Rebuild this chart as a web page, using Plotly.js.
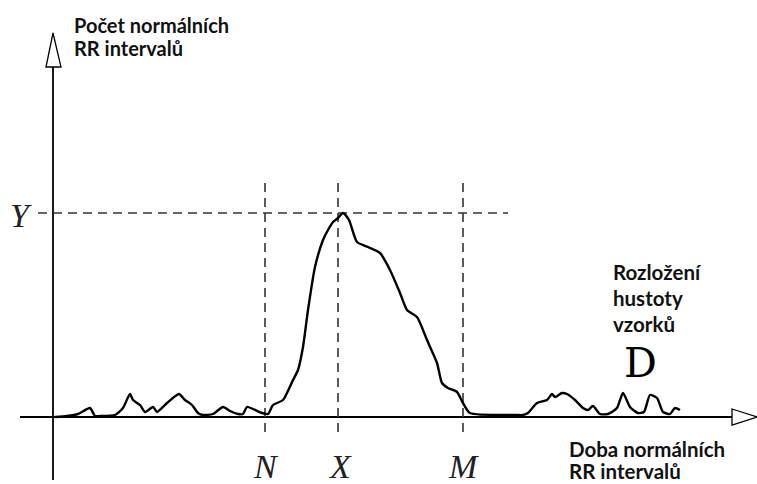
<!DOCTYPE html>
<html>
<head>
<meta charset="utf-8">
<script src="https://cdn.plot.ly/plotly-3.0.1.min.js"></script>
<style>html,body{margin:0;padding:0;background:#fff;}#chart{width:757px;height:484px;}</style>
</head>
<body>
<div id="chart"></div>
<script>
// Distribution of normal RR interval durations (x: duration, y: count)
const durations = [2, 14, 25, 37, 42, 47, 62, 70, 77, 80, 87, 92, 100, 104, 114, 126, 132, 139, 145, 150, 160, 170, 177, 185, 190, 194, 200, 209, 215, 220, 230, 240, 245, 250, 255, 262, 270, 275, 280, 285, 290, 296, 304, 315, 327, 337, 347, 354, 364, 374, 384, 389, 395, 404, 410, 417, 464, 470, 475, 484, 494, 499, 502, 509, 514, 522, 530, 535, 540, 547, 555, 564, 570, 577, 585, 591, 597, 604, 610, 617, 622, 627];
const counts = [0, 1, 3, 9, 1, 1, 2, 9, 23, 17, 12, 5, 10, 5, 14, 23, 17, 12, 4, 2, 3, 10, 6, 3, 3, 10, 8, 4, 3, 12, 17, 37, 47, 70, 107, 150, 177, 187, 195, 199, 204, 197, 175, 170, 164, 147, 124, 107, 100, 77, 54, 34, 29, 25, 14, 4, 2, 2, 4, 14, 17, 23, 20, 24, 23, 17, 9, 7, 11, 3, 3, 9, 24, 10, 4, 5, 22, 19, 5, 3, 9, 7, 2];
const markNames = ["N", "X", "M"];
const markPositions = [212, 285, 410];
const peakLabel = "Y";
const peakCount = 204;
const yTitle = ["Počet normálních", "RR intervalů"];
const xTitle = ["Doba normálních", "RR intervalů"];
const curveNote = ["Rozložení", "hustoty", "vzorků"];
const curveLetter = "D";

const dashStyle = {color: "#333", width: 1.6, dash: "9px,6px"};
const shapes = [];
// axes
shapes.push({type: "line", xref: "x", yref: "y", x0: -33, x1: 680, y0: 0, y1: 0, line: {color: "#000", width: 1.8}, layer: "below"});
shapes.push({type: "line", xref: "x", yref: "y", x0: 0, x1: 0, y0: -63, y1: 350, line: {color: "#000", width: 1.8}, layer: "below"});
// arrowheads (open triangles)
shapes.push({type: "path", xref: "x", yref: "y", path: "M 679 8 L 704 0 L 679 -8 Z", fillcolor: "#fff", line: {color: "#000", width: 1.3}});
shapes.push({type: "path", xref: "x", yref: "y", path: "M -7 350 L 0 384 L 8 350 Z", fillcolor: "#fff", line: {color: "#000", width: 1.3}});
// guides
markPositions.forEach(p => shapes.push({type: "line", xref: "x", yref: "y", x0: p, x1: p, y0: 234, y1: -21, line: dashStyle, layer: "below"}));
shapes.push({type: "line", xref: "x", yref: "y", x0: -15, x1: 455, y0: peakCount, y1: peakCount, line: dashStyle, layer: "below"});

const serifIt = {family: "Liberation Serif", size: 34, color: "#222"};
const annotations = [];
markNames.forEach((n, i) => annotations.push({
  x: markPositions[i] + (i === 0 ? 1 : (i === 2 ? 0 : 2)), y: -49, xref: "x", yref: "y", text: "<i>" + n + "</i>", showarrow: false, font: serifIt, xanchor: "center", yanchor: "middle"
}));
annotations.push({x: -32, y: peakCount - 2, xref: "x", yref: "y", text: "<i>" + peakLabel + "</i>", showarrow: false, font: serifIt, xanchor: "center", yanchor: "middle"});

function addLines(lines, x, yStart, step, size) {
  lines.forEach((t, i) => annotations.push({
    x: x, y: yStart - i * step, xref: "x", yref: "y", text: "<b>" + t + "</b>", showarrow: false,
    font: {family: "Lato", size: size, color: "#111"}, xanchor: "left", yanchor: "middle", align: "left"
  }));
}
addLines(yTitle, 19, 392, 23, 20);
addLines(xTitle, 514, -32, 22, 20.5);
addLines(curveNote, 558, 145, 26, 20.5);
annotations.push({x: 587, y: 54, xref: "x", yref: "y", text: curveLetter, showarrow: false, font: {family: "DejaVu Serif", size: 41, color: "#000"}, xanchor: "center", yanchor: "middle"});

const data = [{
  x: durations, y: counts, type: "scatter", mode: "lines",
  line: {color: "#000", width: 2.4, shape: "spline", smoothing: 0.6},
  hoverinfo: "skip"
}];

const layout = {
  width: 757, height: 484,
  margin: {l: 0, r: 0, t: 0, b: 0},
  paper_bgcolor: "#fff", plot_bgcolor: "#fff",
  showlegend: false,
  xaxis: {range: [-53, 704], visible: false, fixedrange: true},
  yaxis: {range: [-67, 417], visible: false, fixedrange: true},
  shapes: shapes,
  annotations: annotations
};
Plotly.newPlot("chart", data, layout, {staticPlot: true, displayModeBar: false});
</script>
</body>
</html>
